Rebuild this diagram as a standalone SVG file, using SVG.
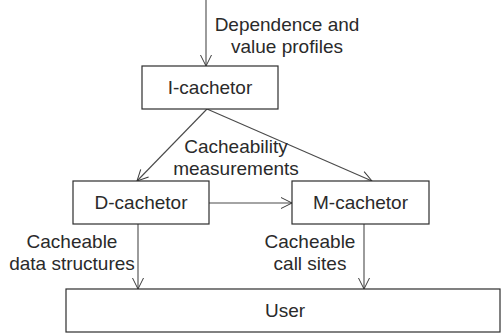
<svg xmlns="http://www.w3.org/2000/svg" width="501" height="333" viewBox="0 0 501 333">
  <defs>
    <marker id="arrow" markerUnits="userSpaceOnUse" markerWidth="14" markerHeight="14" viewBox="-12 -7 14 14" refX="0" refY="0" orient="auto">
      <path d="M-11,-5.5 L0,0 L-11,5.5" fill="none" stroke="#3a3a3a" stroke-width="1"/>
    </marker>
    <style>
      .box { fill: #ffffff; stroke: #2e2e2e; stroke-width: 1.2; }
      .edge { fill: none; stroke: #4a4a4a; stroke-width: 1.1; marker-end: url(#arrow); }
      .label { font-family: "Liberation Sans", Arial, sans-serif; font-size: 19px; fill: #2a2a2a; text-anchor: middle; }
    </style>
  </defs>
  <rect width="501" height="333" fill="#ffffff"/>

  <g id="connectors">
    <line class="edge" x1="206" y1="0" x2="206" y2="66"/>
    <line class="edge" x1="207" y1="109" x2="137" y2="181"/>
    <line class="edge" x1="207" y1="109" x2="372" y2="181"/>
    <line class="edge" x1="209" y1="203" x2="292" y2="203"/>
    <line class="edge" x1="138" y1="224" x2="138" y2="289"/>
    <line class="edge" x1="364" y1="224" x2="364" y2="289"/>
    <text class="label" x="287" y="31">Dependence and</text>
    <text class="label" x="287" y="53">value profiles</text>
    <text class="label" x="236" y="153">Cacheability</text>
    <text class="label" x="236" y="175">measurements</text>
    <text class="label" x="72" y="248">Cacheable</text>
    <text class="label" x="72" y="270">data structures</text>
    <text class="label" x="310" y="248">Cacheable</text>
    <text class="label" x="310" y="270">call sites</text>
  </g>

  <g id="i-cachetor">
    <rect class="box" x="142" y="66" width="136" height="43"/>
    <text class="label" x="210" y="94">I-cachetor</text>
  </g>

  <g id="d-cachetor">
    <rect class="box" x="73" y="181" width="136" height="43"/>
    <text class="label" x="141" y="209">D-cachetor</text>
  </g>

  <g id="m-cachetor">
    <rect class="box" x="292" y="181" width="137" height="43"/>
    <text class="label" x="360.5" y="209">M-cachetor</text>
  </g>

  <g id="user">
    <rect class="box" x="66" y="289" width="434" height="43"/>
    <text class="label" x="285" y="317">User</text>
  </g>
</svg>
